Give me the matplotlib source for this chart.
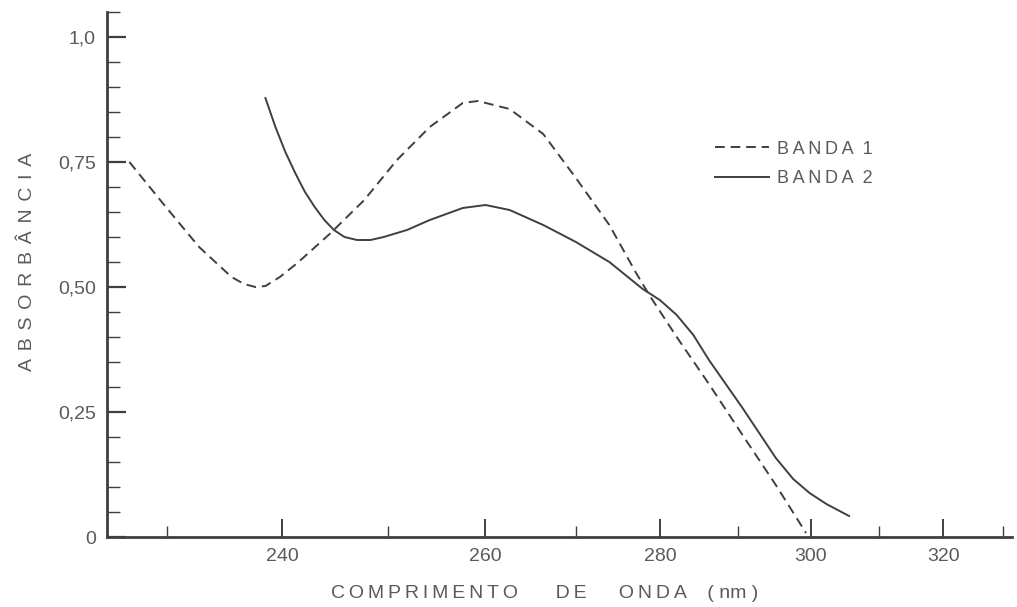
import numpy as np
import matplotlib

matplotlib.use('Agg')
import matplotlib.pyplot as plt
from matplotlib.ticker import FixedLocator, FixedFormatter, MultipleLocator

plt.rcParams['font.family'] = ['Liberation Sans', 'DejaVu Sans']

# Banda 1 (dashed) - wavelength (nm) / absorbance
banda1_nm = [226.9, 229.9, 232.7, 235.5, 236.6, 237.6, 238.5, 239.8, 241.4, 244.5,
             247.7, 250.9, 254.2, 257.6, 259.2, 262.6, 266.3, 270.0, 273.9, 277.1,
             278.7, 282.1, 286.2, 290.6, 295.1, 299.3]
banda1_abs = [0.750, 0.660, 0.580, 0.520, 0.506, 0.500, 0.502, 0.520, 0.548, 0.608,
              0.674, 0.754, 0.820, 0.868, 0.872, 0.856, 0.806, 0.718, 0.624, 0.528,
              0.484, 0.400, 0.306, 0.204, 0.104, 0.008]

# Banda 2 (solid)
banda2_nm = [238.5, 239.4, 240.3, 241.2, 242.1, 243.0, 243.9, 244.8, 245.8, 247.0,
             248.3, 249.6, 250.9, 251.9, 254.2, 257.6, 260.0, 262.6, 266.3, 270.0,
             273.9, 277.9, 280.0, 282.1, 284.2, 286.2, 290.6, 295.1, 297.5, 299.8,
             302.2, 305.5]
banda2_abs = [0.878, 0.820, 0.770, 0.728, 0.690, 0.660, 0.634, 0.614, 0.600, 0.594,
              0.594, 0.600, 0.608, 0.614, 0.634, 0.658, 0.664, 0.654, 0.624, 0.590,
              0.550, 0.496, 0.474, 0.444, 0.404, 0.354, 0.258, 0.158, 0.116, 0.088,
              0.066, 0.042]

x_major = [240, 260, 280, 300, 320]
x_minor = [230, 250, 270, 290, 310, 330]
y_major = [0, 0.25, 0.50, 0.75, 1.0]
y_labels = ['0', '0,25', '0,50', '0,75', '1,0']

INK = '#3f3f3f'
TXT = '#5a5a5a'


def spaced(s, sep='\u2009'):
    return sep.join(s)


def main():
    fig = plt.figure(figsize=(10.17, 6.07), dpi=100)
    ax = fig.add_axes([107 / 1017, 70 / 607, 905 / 1017, 525 / 607])

    # x axis is linear in 1/lambda (wavenumber-type scale)
    def fwd(x):
        with np.errstate(divide='ignore'):
            return -1.0 / np.asarray(x, dtype=float)

    ax.set_xscale('function', functions=(fwd, fwd))
    ax.set_xlim(225.1, 331.5)
    ax.set_ylim(0, 1.05)

    ax.plot(banda1_nm, banda1_abs, color=INK, lw=1.4, ls=(0, (5, 3)),
            label=spaced('BANDA') + '  1')
    ax.plot(banda2_nm, banda2_abs, color=INK, lw=1.4, ls='-',
            label=spaced('BANDA') + '  2')

    ax.xaxis.set_major_locator(FixedLocator(x_major))
    ax.xaxis.set_major_formatter(FixedFormatter([str(v) for v in x_major]))
    ax.xaxis.set_minor_locator(FixedLocator(x_minor))
    ax.xaxis.set_minor_formatter(FixedFormatter([''] * len(x_minor)))

    ax.yaxis.set_major_locator(FixedLocator(y_major))
    ax.yaxis.set_major_formatter(FixedFormatter(y_labels))
    ax.yaxis.set_minor_locator(MultipleLocator(0.05))

    ax.tick_params(axis='x', which='major', direction='in', length=13, width=1.4,
                   color=INK, labelsize=14, labelcolor=TXT, pad=8)
    ax.tick_params(axis='x', which='minor', direction='in', length=8, width=1.0, color=INK)
    ax.tick_params(axis='y', which='major', direction='in', length=14, width=1.6,
                   color=INK, labelsize=14, labelcolor=TXT, pad=8)
    ax.tick_params(axis='y', which='minor', direction='in', length=9, width=1.0, color=INK)

    for side in ('top', 'right'):
        ax.spines[side].set_visible(False)
    for side in ('left', 'bottom'):
        ax.spines[side].set_linewidth(2.0)
        ax.spines[side].set_color(INK)

    ax.legend(loc='upper left', bbox_to_anchor=(0.672, 0.755), frameon=False,
              fontsize=13, handlelength=3.0, handletextpad=0.4, labelspacing=0.68,
              borderpad=0, borderaxespad=0, labelcolor=TXT)

    fig.text(545 / 1017, 1 - 593 / 607,
             spaced('COMPRIMENTO') + '       ' + spaced('DE') + '      ' + spaced('ONDA')
             + '    ( nm )',
             ha='center', va='center', fontsize=14, color=TXT)
    fig.text(28 / 1017, 1 - 262 / 607, spaced('ABSORBÂNCIA', '\u2009\u2009'), rotation=90,
             ha='center', va='center', fontsize=14, color=TXT)

    fig.savefig('out.png', dpi=100, facecolor='white')


if __name__ == '__main__':
    main()
